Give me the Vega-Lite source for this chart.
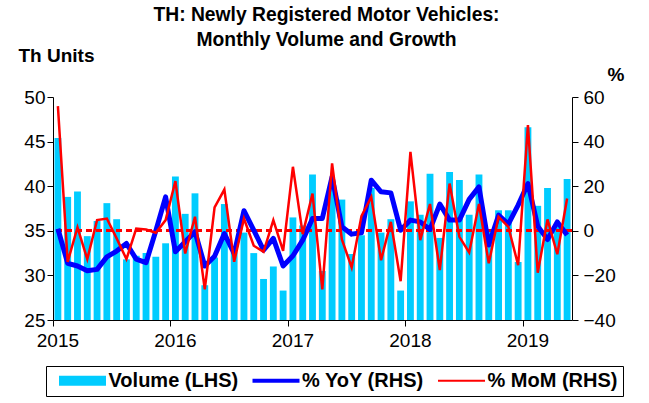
{
  "$schema": "https://vega.github.io/schema/vega-lite/v6.json",
  "width": 519,
  "height": 223,
  "autosize": {"type": "none"},
  "padding": {"left": 53, "top": 97, "right": 77, "bottom": 83},
  "background": "white",
  "config": {
    "font": "Liberation Sans",
    "view": {"stroke": null},
    "axis": {"labelFont": "Liberation Sans", "labelFontSize": 19, "labelColor": "black", "domain": true, "ticks": true, "domainColor": "black", "domainWidth": 1, "tickColor": "black", "tickWidth": 1, "grid": false, "titleFont": "Liberation Sans", "titleColor": "black", "zindex": 1}
  },
  "title": {
    "text": ["TH: Newly Registered Motor Vehicles:", "Monthly Volume and Growth"],
    "font": "Liberation Sans", "fontSize": 19.3, "fontWeight": "bold", "color": "black",
    "anchor": "middle", "lineHeight": 24.5, "dx": 14, "offset": -4
  },
  "data": {"values": [
    {"month": "2015-01", "vol": 45.4, "yoy": 0.9, "mom": 55.9},
    {"month": "2015-02", "vol": 38.8, "yoy": -14.6, "mom": -13.9},
    {"month": "2015-03", "vol": 39.4, "yoy": -15.8, "mom": 1.5},
    {"month": "2015-04", "vol": 34.4, "yoy": -17.9, "mom": -12.7},
    {"month": "2015-05", "vol": 36.1, "yoy": -17.3, "mom": 4.8},
    {"month": "2015-06", "vol": 38.1, "yoy": -11.7, "mom": 5.5},
    {"month": "2015-07", "vol": 36.3, "yoy": -9.1, "mom": -3.4},
    {"month": "2015-08", "vol": 31.8, "yoy": -5.7, "mom": -12.7},
    {"month": "2015-09", "vol": 32.2, "yoy": -12.7, "mom": 1.0},
    {"month": "2015-10", "vol": 32.5, "yoy": -14.3, "mom": 0.6},
    {"month": "2015-11", "vol": 32.1, "yoy": 0.0, "mom": -0.9},
    {"month": "2015-12", "vol": 33.6, "yoy": 15.2, "mom": 4.8},
    {"month": "2016-01", "vol": 41.1, "yoy": -9.4, "mom": 22.3},
    {"month": "2016-02", "vol": 36.9, "yoy": -4.9, "mom": -10.2},
    {"month": "2016-03", "vol": 39.2, "yoy": -0.4, "mom": 6.3},
    {"month": "2016-04", "vol": 28.9, "yoy": -15.8, "mom": -26.3},
    {"month": "2016-05", "vol": 32.0, "yoy": -11.4, "mom": 10.5},
    {"month": "2016-06", "vol": 38.0, "yoy": -1.2, "mom": 18.5},
    {"month": "2016-07", "vol": 32.6, "yoy": -10.2, "mom": -13.9},
    {"month": "2016-08", "vol": 34.8, "yoy": 9.0, "mom": 5.5},
    {"month": "2016-09", "vol": 32.5, "yoy": 0.3, "mom": -6.7},
    {"month": "2016-10", "vol": 29.6, "yoy": -8.7, "mom": -9.4},
    {"month": "2016-11", "vol": 31.0, "yoy": -3.4, "mom": 4.8},
    {"month": "2016-12", "vol": 28.3, "yoy": -15.8, "mom": -9.0},
    {"month": "2017-01", "vol": 36.5, "yoy": -11.2, "mom": 28.7},
    {"month": "2017-02", "vol": 35.6, "yoy": -4.2, "mom": -1.5},
    {"month": "2017-03", "vol": 41.3, "yoy": 5.5, "mom": 16.7},
    {"month": "2017-04", "vol": 30.5, "yoy": 5.5, "mom": -26.3},
    {"month": "2017-05", "vol": 39.7, "yoy": 24.2, "mom": 30.2},
    {"month": "2017-06", "vol": 38.5, "yoy": 1.8, "mom": -3.9},
    {"month": "2017-07", "vol": 32.4, "yoy": -1.5, "mom": -16.4},
    {"month": "2017-08", "vol": 34.5, "yoy": -0.9, "mom": 6.6},
    {"month": "2017-09", "vol": 39.8, "yoy": 22.7, "mom": 15.2},
    {"month": "2017-10", "vol": 34.8, "yoy": 17.5, "mom": -13.2},
    {"month": "2017-11", "vol": 36.3, "yoy": 17.0, "mom": 4.0},
    {"month": "2017-12", "vol": 28.3, "yoy": 0.3, "mom": -22.6},
    {"month": "2018-01", "vol": 38.3, "yoy": 4.8, "mom": 35.4},
    {"month": "2018-02", "vol": 36.8, "yoy": 4.0, "mom": -4.2},
    {"month": "2018-03", "vol": 41.4, "yoy": 0.6, "mom": 12.0},
    {"month": "2018-04", "vol": 34.2, "yoy": 12.0, "mom": -17.6},
    {"month": "2018-05", "vol": 41.6, "yoy": 4.8, "mom": 21.2},
    {"month": "2018-06", "vol": 40.7, "yoy": 4.8, "mom": -2.7},
    {"month": "2018-07", "vol": 36.8, "yoy": 14.1, "mom": -9.7},
    {"month": "2018-08", "vol": 41.3, "yoy": 19.7, "mom": 12.0},
    {"month": "2018-09", "vol": 35.1, "yoy": -6.4, "mom": -14.6},
    {"month": "2018-10", "vol": 37.3, "yoy": 7.0, "mom": 6.3},
    {"month": "2018-11", "vol": 37.3, "yoy": 3.0, "mom": 1.8},
    {"month": "2018-12", "vol": 31.5, "yoy": 11.5, "mom": -15.4},
    {"month": "2019-01", "vol": 46.6, "yoy": 21.2, "mom": 47.4},
    {"month": "2019-02", "vol": 37.8, "yoy": 2.1, "mom": -18.8},
    {"month": "2019-03", "vol": 39.8, "yoy": -3.9, "mom": 5.1},
    {"month": "2019-04", "vol": 35.6, "yoy": 4.0, "mom": -10.5},
    {"month": "2019-05", "vol": 40.8, "yoy": -1.9, "mom": 14.5}
  ]},
  "layer": [
    {
      "mark": {"type": "bar", "width": {"band": 0.7}},
      "encoding": {
        "x": {"field": "month", "type": "ordinal", "sort": "ascending", "title": null,
          "scale": {"type": "band", "paddingInner": 0, "paddingOuter": 0},
          "axis": {"values": ["2015-01", "2016-01", "2017-01", "2018-01", "2019-01"], "labelExpr": "substring(datum.label, 0, 4)", "bandPosition": 0, "labelAngle": 0, "labelAlign": "center", "tickSize": 6, "labelPadding": 5}},
        "y": {"field": "vol", "type": "quantitative", "title": "Th Units",
          "scale": {"domain": [25, 50], "nice": false, "zero": false},
          "axis": {"titleAngle": 0, "titleAlign": "left", "titleBaseline": "alphabetic", "titleX": -35, "titleY": -36, "titleFontSize": 19, "titleFontWeight": "bold", "values": [25, 30, 35, 40, 45, 50], "tickSize": 6, "labelPadding": 2}},
        "y2": {"datum": 25},
        "color": {"datum": "Volume (LHS)",
          "scale": {"domain": ["Volume (LHS)", "% YoY (RHS)", "% MoM (RHS)"], "range": ["#00CCFF", "#0000FF", "#FF0000"]},
          "legend": {"title": null, "orient": "none", "legendX": -7, "legendY": 269, "direction": "horizontal", "columns": 3,
            "strokeColor": "black", "fillColor": "white", "padding": 5, "clipHeight": 19, "labelFontSize": 20, "labelFontWeight": "bold", "labelFont": "Liberation Sans", "labelColor": "black",
            "symbolType": "M-4.7,0L4.7,0", "symbolSize": 100, "symbolOffset": 21.5, "columnPadding": 5.5, "labelOffset": 16,
            "encode": {"symbols": {"update": {
              "stroke": {"signal": "scale('color', datum.value)"},
              "fill": {"value": "transparent"},
              "strokeCap": {"value": "butt"},
              "strokeWidth": {"signal": "datum.value === 'Volume (LHS)' ? 10 : (datum.value === '% YoY (RHS)' ? 4 : 2)"}
            }}}}}
      }
    },
    {
      "layer": [
        {
          "mark": {"type": "rule", "color": "#FF0000", "strokeDash": [6, 4], "strokeWidth": 2},
          "encoding": {"y": {"datum": 0, "type": "quantitative", "title": "%"}}
        },
        {
          "mark": {"type": "line", "strokeWidth": 5, "strokeJoin": "round"},
          "encoding": {
            "x": {"field": "month", "type": "ordinal", "sort": "ascending", "title": null,
              "axis": {"values": ["2015-01", "2016-01", "2017-01", "2018-01", "2019-01"], "labelExpr": "substring(datum.label, 0, 4)", "bandPosition": 0, "labelAngle": 0, "labelAlign": "center", "tickSize": 6, "labelPadding": 5}},
            "y": {"field": "yoy", "type": "quantitative", "title": "%",
              "scale": {"domain": [-40, 60], "nice": false, "zero": false},
              "axis": {"orient": "right", "titleAngle": 0, "titleAlign": "left", "titleBaseline": "alphabetic", "titleX": 35, "titleY": -17, "titleFontSize": 19, "titleFontWeight": "bold", "values": [-40, -20, 0, 20, 40, 60], "tickSize": 6, "labelPadding": 5}},
            "color": {"datum": "% YoY (RHS)"}
          }
        },
        {
          "mark": {"type": "line", "strokeWidth": 2.5, "strokeJoin": "miter"},
          "encoding": {
            "x": {"field": "month", "type": "ordinal", "sort": "ascending", "title": null,
              "axis": {"values": ["2015-01", "2016-01", "2017-01", "2018-01", "2019-01"], "labelExpr": "substring(datum.label, 0, 4)", "bandPosition": 0, "labelAngle": 0, "labelAlign": "center", "tickSize": 6, "labelPadding": 5}},
            "y": {"field": "mom", "type": "quantitative", "title": "%"},
            "color": {"datum": "% MoM (RHS)"}
          }
        }
      ]
    }
  ],
  "resolve": {"scale": {"y": "independent"}}
}
